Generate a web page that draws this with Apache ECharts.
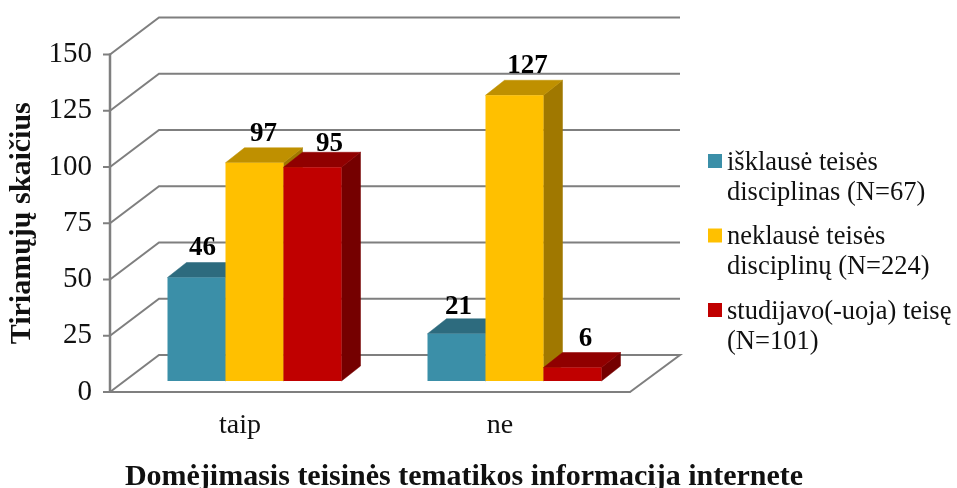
<!DOCTYPE html>
<html>
<head>
<meta charset="utf-8">
<style>html,body{margin:0;padding:0;background:#fff}#c{width:957px;height:488px}</style>
<script src="https://cdn.jsdelivr.net/npm/echarts@6/dist/echarts.min.js"></script>
</head>
<body>
<div id="c"></div>
<script>
const categories = ['taip', 'ne'];
const seriesNames = ['išklausė teisės\ndisciplinas (N=67)', 'neklausė teisės\ndisciplinų (N=224)', 'studijavo(-uoja) teisę\n(N=101)'];
const heard = [46, 21];
const notHeard = [97, 127];
const studied = [95, 6];
const yTicks = [0, 25, 50, 75, 100, 125, 150];
const yTitle = 'Tiriamųjų skaičius';
const xTitle = 'Domėjimasis teisinės tematikos informacija internete';

const FONT = '"Liberation Serif", serif';
const LINE = '#7f7f7f';
const WALL = { dx: 49, dy: -37 };
const FLOOR = { dx: 14.5, dy: -11 };
const BAR = { ratio: 58 / 260, dx: 19, dy: -15 };
const TICK_LEN = 7;
const palette = [
  { front: '#3b8fa8', top: '#2d6b7e', side: '#266070' },
  { front: '#ffc000', top: '#bf9000', side: '#a07800' },
  { front: '#c00000', top: '#900000', side: '#750000' }
];
// label nudges relative to the top-front centre of each bar
const labelNudge = [
  [[6, -29.5], [2, -26.5]],
  [[9, -28.5], [13, -29.5]],
  [[17, -23.5], [13, -28.5]]
];

function wallItem(params, api) {
  const v = api.value(0);
  const g = params.coordSys;
  const y = api.coord([0, v])[1];
  const style = { stroke: LINE, lineWidth: 2, fill: null };
  const pts = [[g.x, y], [g.x + WALL.dx, y + WALL.dy], [g.x + g.width + WALL.dx + 1, y + WALL.dy]];
  if (v === 0) pts.push([g.x + g.width, y]);
  const children = [
    { type: 'polyline', shape: { points: pts }, style },
    { type: 'line', shape: { x1: g.x - TICK_LEN, y1: y, x2: g.x, y2: y }, style: { stroke: LINE, lineWidth: 2 } }
  ];
  if (v === yTicks[yTicks.length - 1]) {
    children.push({ type: 'line', shape: { x1: g.x, y1: y - 1, x2: g.x, y2: api.coord([0, 0])[1] + 1 }, style: { stroke: LINE, lineWidth: 2.5 } });
  }
  return { type: 'group', children, silent: true };
}

function barRenderer(seriesIdx) {
  return function (params, api) {
    const idx = api.value(0), val = api.value(1);
    const w = api.size([1, 0])[0] * BAR.ratio;
    const c = api.coord([idx, val]);
    const b = api.coord([idx, 0]);
    const x0 = c[0] + FLOOR.dx + (seriesIdx - 1.5) * w;
    const x1 = x0 + w;
    const yT = c[1] + FLOOR.dy, yB = b[1] + FLOOR.dy;
    const col = palette[seriesIdx];
    const nudge = labelNudge[seriesIdx][idx];
    const poly = (points, fill) => ({ type: 'polygon', shape: { points }, style: { fill, stroke: fill, lineWidth: 0.5 } });
    return {
      type: 'group',
      children: [
        poly([[x1, yT], [x1 + BAR.dx, yT + BAR.dy], [x1 + BAR.dx, yB + BAR.dy], [x1, yB]], col.side),
        poly([[x0, yT], [x0 + BAR.dx, yT + BAR.dy], [x1 + BAR.dx, yT + BAR.dy], [x1, yT]], col.top),
        { type: 'rect', shape: { x: x0, y: yT, width: w, height: yB - yT }, style: { fill: col.front } },
        { type: 'text', x: (x0 + x1) / 2 + nudge[0], y: yT + nudge[1],
          style: { text: String(val), font: 'bold 27px ' + FONT, fill: '#000', align: 'center', verticalAlign: 'middle' } }
      ]
    };
  };
}

const seriesValues = [heard, notHeard, studied];
const iconPath = 'path://M0 6H14V20H0Z M0 0L0 0 M0 60L0 60';

const chart = echarts.init(document.getElementById('c'), null, { renderer: 'canvas' });
chart.setOption({
  animation: false,
  backgroundColor: '#fff',
  grid: { left: 110, right: 327, top: 54.5, height: 337.5, containLabel: false, outerBoundsMode: 'none' },
  legend: {
    orient: 'vertical', left: 708, top: 148, padding: 0, itemWidth: 14, itemHeight: 60, itemGap: 14.5,
    selectedMode: false, icon: iconPath, data: seriesNames,
    textStyle: { fontFamily: FONT, fontSize: 26.5, lineHeight: 30, color: '#111' }
  },
  xAxis: {
    type: 'category', data: categories,
    axisLine: { show: true, onZero: false, lineStyle: { color: LINE, width: 2 } },
    axisTick: { show: false },
    axisLabel: { fontFamily: FONT, fontSize: 28, color: '#111', margin: 20 },
    splitLine: { show: false },
    name: xTitle, nameLocation: 'middle', nameGap: 70,
    nameTextStyle: { fontFamily: FONT, fontSize: 30, fontWeight: 'bold', color: '#111', padding: [0, 0, 0, 188] }
  },
  yAxis: {
    type: 'value', min: 0, max: 150, interval: 25, position: 'left',
    axisLine: { show: false },
    axisTick: { show: false },
    axisLabel: { fontFamily: FONT, fontSize: 29, color: '#111', margin: 18 },
    splitLine: { show: false },
    name: yTitle, nameLocation: 'middle', nameGap: 68, nameRotate: 90,
    nameTextStyle: { fontFamily: FONT, fontSize: 30, fontWeight: 'bold', color: '#111' }
  },
  series: [
    { type: 'custom', name: 'walls', silent: true, z: 1, data: yTicks.map(v => [v]), encode: { y: 0 }, renderItem: wallItem, clip: false }
  ].concat(seriesValues.map((vals, i) => ({
    type: 'custom', name: seriesNames[i], z: 2 + i, clip: false,
    itemStyle: { color: palette[i].front },
    data: vals.map((v, k) => [k, v]),
    encode: { x: 0, y: 1 },
    renderItem: barRenderer(i)
  })))
});
</script>
</body>
</html>
